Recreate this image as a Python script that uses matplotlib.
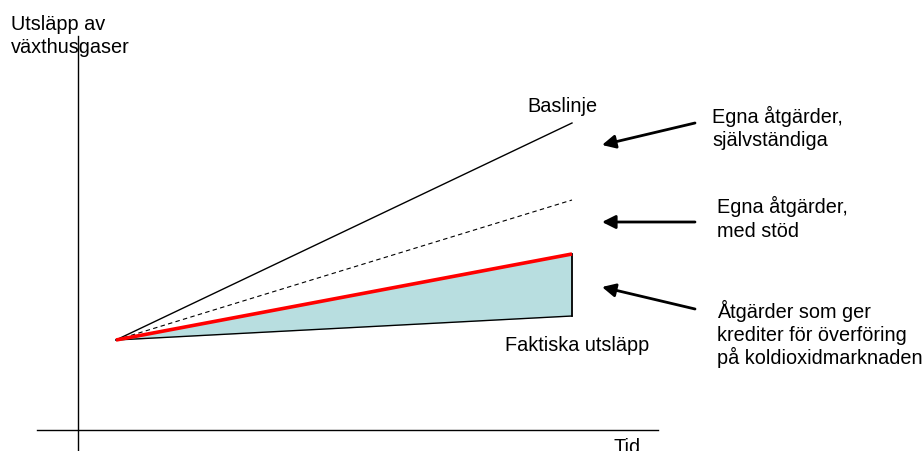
import matplotlib
matplotlib.use("Agg")
import matplotlib.pyplot as plt

plt.rcParams['font.family'] = ['Liberation Sans', 'DejaVu Sans']

# Schematic coordinates (figure pixel space, y measured upward from bottom)
H = 452
time = [116, 572]                 # start and end of the period
baseline = [111, 328]             # Baslinje
with_support = [111, 251]         # Egna åtgärder, med stöd (dashed)
own_measures = [111, 197]         # Egna åtgärder (red)
actual = [111, 135]               # Faktiska utsläpp

y_axis_x = 78
y_axis_span = [0, 415]
x_axis_y = 21
x_axis_span = [37, 658]

# arrows: (tail_x, tail_y, head_x, head_y)
arrow_tails_x = [695, 695, 695]
arrow_tails_y = [H - 124, H - 223, H - 310]
arrow_heads_x = [602, 602, 602]
arrow_heads_y = [H - 146, H - 223, H - 288]

fig = plt.figure(figsize=(9.23, 4.52), dpi=100)
ax = fig.add_axes([0, 0, 1, 1])
ax.set_xlim(0, 923)
ax.set_ylim(0, 452)
ax.axis('off')

# axes lines
ax.plot([y_axis_x, y_axis_x], y_axis_span, color='black', lw=1)
ax.plot(x_axis_span, [x_axis_y, x_axis_y], color='black', lw=1)

# filled wedge between actual and own measures
ax.fill_between(time, actual, own_measures, color='#B8DEE0', lw=0)
ax.plot(time, actual, color='black', lw=1)
ax.plot([time[1], time[1]], [actual[1], own_measures[1]], color='black', lw=1.3)

ax.plot(time, baseline, color='black', lw=1)
ax.plot(time, with_support, color='black', lw=0.8, ls=(0, (4, 3)))
ax.plot(time, own_measures, color='#FF0000', lw=2.6, solid_capstyle='butt')

for tx, ty, hx, hy in zip(arrow_tails_x, arrow_tails_y, arrow_heads_x, arrow_heads_y):
    ax.annotate('', xy=(hx, hy), xytext=(tx, ty),
                arrowprops=dict(arrowstyle='-|>', lw=2, color='black',
                                mutation_scale=20, shrinkA=0, shrinkB=0))

fs = 14.3
def t(x, y_px, s):
    ax.text(x, H - y_px, s, fontsize=fs, va='baseline', ha='left')

t(11, 30, 'Utsläpp av')
t(11, 53, 'växthusgaser')
t(527, 112, 'Baslinje')
t(712, 123, 'Egna åtgärder,')
t(712, 146, 'självständiga')
t(717, 213, 'Egna åtgärder,')
t(717, 237, 'med stöd')
t(717, 318, 'Åtgärder som ger')
t(717, 341, 'krediter för överföring')
t(717, 364, 'på koldioxidmarknaden')
t(505, 351, 'Faktiska utsläpp')
t(613, 453, 'Tid')

fig.savefig('out.png', dpi=100)
